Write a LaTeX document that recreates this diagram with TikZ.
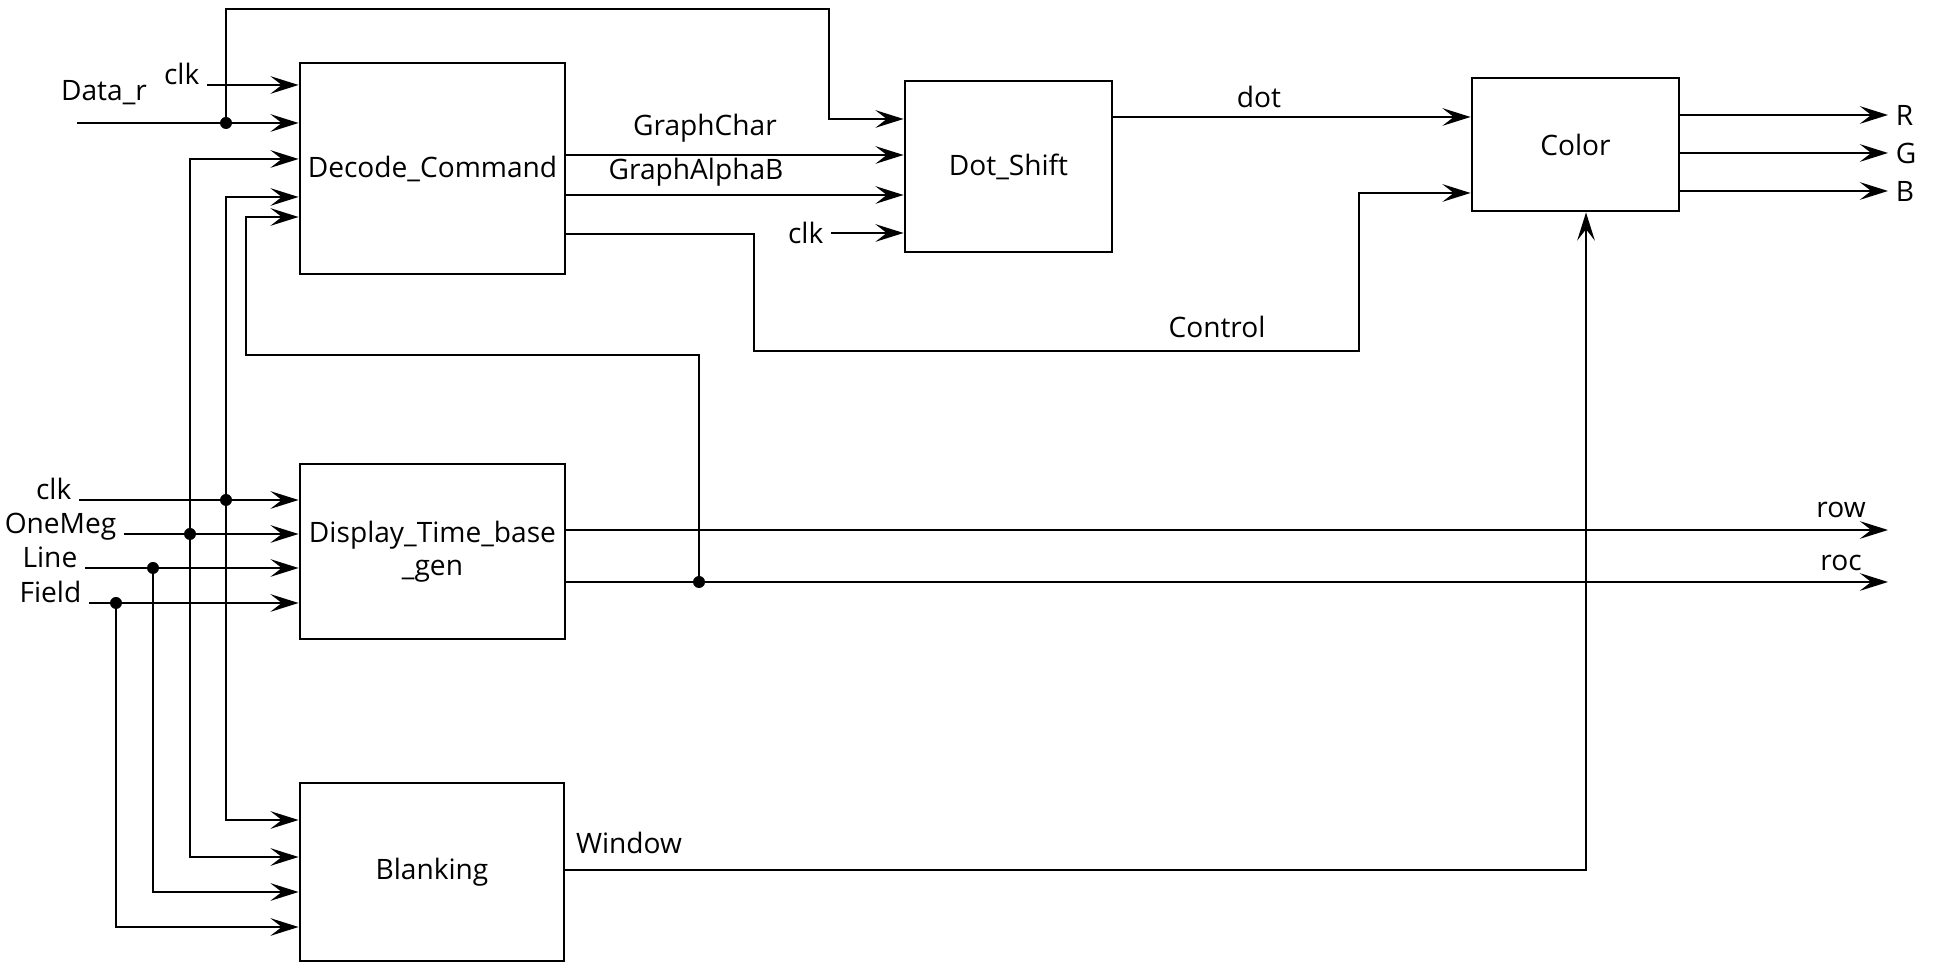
\documentclass[tikz,border=0pt]{standalone}
\usepackage{fontspec}
\setmainfont{Open Sans}
\usepackage{tikz}
\usetikzlibrary{arrows.meta, positioning}

\begin{document}
\begin{tikzpicture}[
    x=0.1mm, y=-0.1mm,
    every node/.style={font=\fontsize{8}{9.5}\selectfont},
    block/.style={draw, line width=0.8pt, inner sep=0pt, align=center},
    sig/.style={line width=0.8pt, -{Stealth[length=8pt, width=5pt, inset=3.2pt]}},
    lbl/.style={inner sep=2pt},
    junc/.style={circle, fill, inner sep=0pt, minimum size=1.2mm},
  ]
  \useasboundingbox (0,0) rectangle (1947,970);

  % blocks
  \node[block, minimum width=26.5mm, minimum height=21.1mm] (dec) at (432.5,168.5) {Decode\_Command};
  \node[block, minimum width=20.7mm, minimum height=17.1mm] (dsh) at (1008.5,166.5) {Dot\_Shift};
  \node[block, minimum width=20.7mm, minimum height=13.3mm] (col) at (1575.5,144.5) {Color};
  \node[block, minimum width=26.5mm, minimum height=17.5mm] (dsp) at (432.5,551.5) {Display\_Time\_base\\\_gen};
  \node[block, minimum width=26.4mm, minimum height=17.8mm] (blk) at (432,872) {Blanking};

  % junctions
  \node[junc] (jdat) at (226,123) {};
  \node[junc] (jck) at (226,500) {};
  \node[junc] (jom) at (190,534) {};
  \node[junc] (jln) at (153,568) {};
  \node[junc] (jfd) at (116,603) {};
  \node[junc] (jroc) at (699,582) {};

  % inputs of Decode_Command
  \node[lbl, anchor=base east] (lck1) at (207,85) {clk};
  \draw[sig] (lck1.base east) -- (dec.west |- lck1.base east);
  \node (ldat) at (104,93) {Data\_r};
  \coordinate (idat) at (77,123);
  \draw[sig] (idat) -- (dec.west |- idat);
  \draw[sig] (jdat.center) |- (829,9) |- (dsh.west |- 0,119);
  \draw[sig] (jom.center) |- (dec.west |- 0,159);
  \draw[sig] (jck.center) |- (dec.west |- 0,197);
  \draw[sig] (jroc.center) |- (246,355) |- (dec.west |- 0,217);

  % inputs of Display_Time_base_gen
  \node[lbl, anchor=base east] (lck2) at (79,500) {clk};
  \node[lbl, anchor=base east] (lom) at (124,534) {OneMeg};
  \node[lbl, anchor=base east] (lln) at (85,568) {Line};
  \node[lbl, anchor=base east] (lfd) at (89,603) {Field};
  \draw[sig] (lck2.base east) -- (dsp.west |- lck2.base east);
  \draw[sig] (lom.base east) -- (dsp.west |- lom.base east);
  \draw[sig] (lln.base east) -- (dsp.west |- lln.base east);
  \draw[sig] (lfd.base east) -- (dsp.west |- lfd.base east);

  % inputs of Blanking
  \draw[sig] (jck.center) |- (blk.west |- 0,820);
  \draw[sig] (jom.center) |- (blk.west |- 0,857);
  \draw[sig] (jln.center) |- (blk.west |- 0,892);
  \draw[sig] (jfd.center) |- (blk.west |- 0,927);

  % Decode_Command -> Dot_Shift
  \node (lgc) at (705,128) {GraphChar};
  \node (lgab) at (696,172) {GraphAlphaB};
  \draw[sig] (dec.east |- 0,155) -- (dsh.west |- 0,155);
  \draw[sig] (dec.east |- 0,195) -- (dsh.west |- 0,195);
  \node[lbl, anchor=east] (lck3) at (831,233) {clk};
  \draw[sig] (lck3.east) -- (dsh.west |- lck3.east);

  % Control and dot into Color
  \draw[sig] (dec.east |- 0,234) -| (754,351) -| (1359,193) -- (col.west |- 0,193);
  \node (lctl) at (1217,327) {Control};
  \draw[sig] (dsh.east |- 0,117) -- (col.west |- 0,117);
  \node (ldot) at (1259,97) {dot};

  % outputs R, G, B
  \node[lbl, anchor=west] (lr) at (1888,115) {R};
  \node[lbl, anchor=west] (lg) at (1888,153) {G};
  \node[lbl, anchor=west] (lb) at (1888,191) {B};
  \draw[sig] (col.east |- lr.west) -- (lr.west);
  \draw[sig] (col.east |- lg.west) -- (lg.west);
  \draw[sig] (col.east |- lb.west) -- (lb.west);

  % outputs row, roc
  \coordinate (orow) at (1888,530);
  \coordinate (oroc) at (1888,582);
  \draw[sig] (dsp.east |- orow) -- (orow);
  \draw[sig] (dsp.east |- oroc) -- (oroc);
  \node (lrow) at (1841,510) {row};
  \node (lroc) at (1841,563) {roc};

  % Window into Color
  \draw[sig] (blk.east |- 0,870) -| (col.south -| 1586,0);
  \node (lwin) at (629,843) {Window};
\end{tikzpicture}
\end{document}
